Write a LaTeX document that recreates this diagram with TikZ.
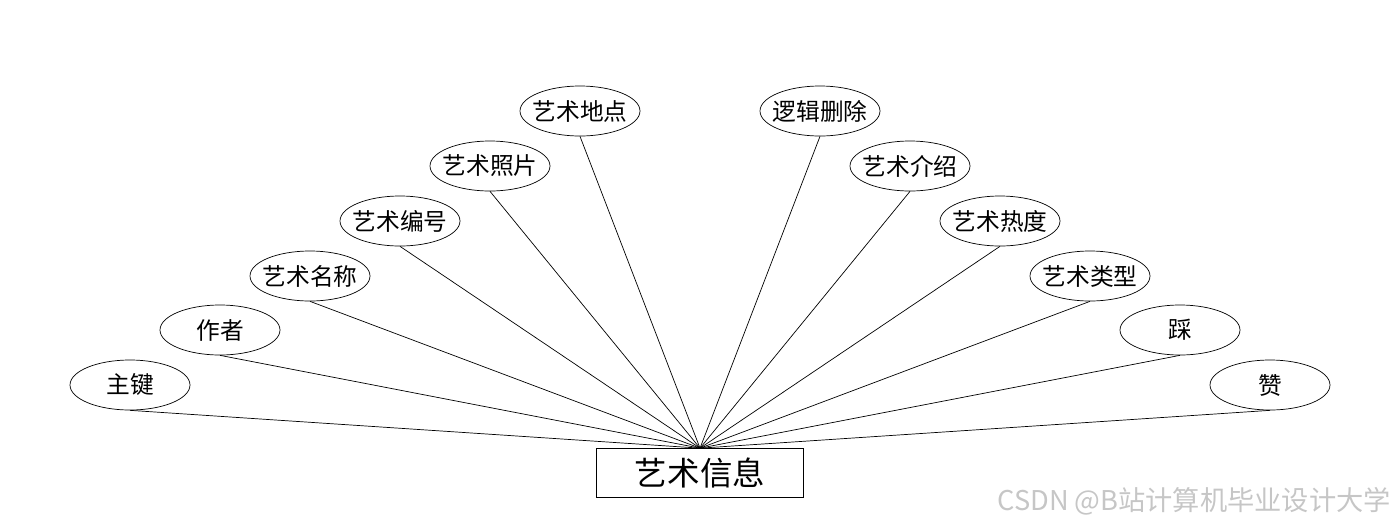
\documentclass[tikz,border=0pt]{standalone}
\usepackage{fontspec}
\usepackage{tikz}
\usetikzlibrary{
    shapes.geometric
}
\newfontfamily\cjk{Noto Sans CJK SC}

\begin{document}
\begin{tikzpicture}[
x=0.02cm, y=-0.02cm,
attr/.style={
draw,
ellipse,
inner xsep=-10pt,
inner ysep=0pt,
minimum width=2.4cm,
minimum height=1cm,
font=\cjk\fontsize{13.5}{15}\selectfont
},
entity/.style={
draw,
rectangle,
inner sep=0pt,
minimum width=4.14cm,
minimum height=0.98cm,
font=\cjk\fontsize{18.5}{20}\selectfont
},
link/.style={
thin
}
]

\useasboundingbox (0,0) rectangle (1400,528);

\node[entity] (info) at (700,473) {艺术信息};

\node[attr] (zhujian) at (130,385) {主键};
\node[attr] (zuozhe) at (220,330) {作者};
\node[attr] (mingcheng) at (310,276) {艺术名称};
\node[attr] (bianhao) at (400,221) {艺术编号};
\node[attr] (zhaopian) at (490,166) {艺术照片};
\node[attr] (didian) at (580,111) {艺术地点};
\node[attr] (shanchu) at (820,111) {逻辑删除};
\node[attr] (jieshao) at (910,166) {艺术介绍};
\node[attr] (redu) at (1000,221) {艺术热度};
\node[attr] (leixing) at (1090,276) {艺术类型};
\node[attr] (cai) at (1180,330) {踩};
\node[attr] (zan) at (1270,385) {赞};

\foreach \a in {zhujian,zuozhe,mingcheng,bianhao,zhaopian,didian,
shanchu,jieshao,redu,leixing,cai,zan}
\draw[link] (\a.south) -- (info.north);

% watermark
\node[anchor=east, text=gray!45,
font=\cjk\fontsize{15.5}{17}\selectfont] (mark) at (1397,501)
{CSDN @B站计算机毕业设计大学};

\end{tikzpicture}
\end{document}
